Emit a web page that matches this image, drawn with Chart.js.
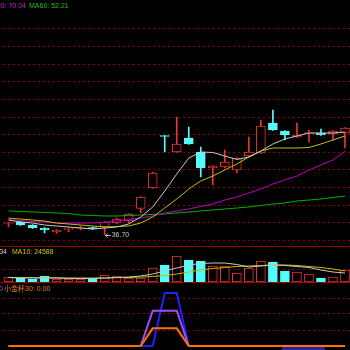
<!DOCTYPE html>
<html>
<head>
<meta charset="utf-8">
<script src="https://cdn.jsdelivr.net/npm/chart.js@4.4.1/dist/chart.umd.min.js"></script>
<style>
  html, body { margin: 0; padding: 0; background: #000; width: 350px; height: 350px; overflow: hidden; }
  .pane { position: absolute; left: 0; width: 350px; overflow: hidden; }
  .sep { position: absolute; left: 0; width: 350px; height: 1px; background: #a00000; }
  .txt { position: absolute; font: 7px "Liberation Sans", Arial, "Noto Sans CJK SC", sans-serif; white-space: nowrap; line-height: 9px; }
</style>
</head>
<body>
<div class="pane" style="top:0;height:246px"><canvas id="kChart" width="351" height="246"></canvas></div>
<div class="sep" style="top:246px"></div>
<div class="pane" style="top:247px;height:35px"><canvas id="volChart" width="351" height="35"></canvas></div>
<div class="sep" style="top:282px"></div>
<div class="pane" style="top:283px;height:67px"><canvas id="indChart" width="351" height="67"></canvas></div>

<span class="txt" style="top:1px;right:324px;color:#c828c8">MA30: 70.04</span>
<span class="txt" style="top:1px;left:29px;color:#20c020">MA60: 52.21</span>
<span class="txt" style="top:247px;right:343px;color:#c8c8c8">MA5: 19234</span>
<span class="txt" style="top:247px;left:12px;color:#c8c800">MA10: 24588</span>
<span class="txt" style="top:284px;right:347px;color:#9050ff">30</span>
<span class="txt" style="top:284px;left:4px;color:#f07820">小金杯30: 0.00</span>
<div style="position:absolute;left:282px;top:347px;width:43px;height:10px;background:#2323a0"></div>

<script>
// trading days shown (29 bars)
const DAYS = ['1','2','3','4','5','6','7','8','9','10','11','12','13','14','15','16','17','18','19','20','21','22','23','24','25','26','27','28','29'];

const OPEN  = [41.27, 41.87, 40.68, 39.48, 37.89, 38.95, 39.29, 39.68, 39.88, 41.47, 42.27, 47.24, 55.39, 76.27, 69.71, 75.28, 69.71, 63.35, 63.74, 62.55, 68.12, 69.31, 81.24, 78.06, 75.68, 77.07, 77.27, 76.87, 77.27];
const HIGH  = [41.87, 42.07, 40.88, 39.68, 38.89, 39.88, 40.28, 39.88, 42.07, 43.46, 45.25, 52.01, 61.76, 76.27, 83.63, 79.65, 71.70, 64.34, 70.50, 67.52, 75.68, 82.44, 86.41, 78.26, 81.24, 78.46, 78.86, 78.26, 79.45];
const LOW   = [39.88, 40.48, 39.29, 37.50, 37.30, 37.89, 38.69, 38.89, 36.70, 41.08, 41.47, 45.45, 55.19, 69.71, 69.51, 72.69, 59.77, 56.59, 63.35, 61.36, 67.92, 69.11, 78.26, 74.48, 75.48, 73.69, 76.27, 74.48, 71.30];
const CLOSE = [41.67, 40.68, 39.48, 38.69, 38.69, 39.35, 39.68, 39.09, 41.87, 43.06, 45.05, 51.81, 61.36, 75.87, 72.89, 72.89, 63.35, 64.14, 65.73, 67.32, 69.71, 80.05, 78.46, 76.47, 76.47, 77.47, 76.47, 78.06, 79.25];

const MA5  = [42.67, 41.87, 41.47, 40.68, 40.28, 39.88, 39.48, 39.09, 39.48, 39.88, 41.08, 43.86, 47.84, 54.20, 60.96, 67.32, 69.71, 69.51, 68.12, 66.73, 67.72, 70.11, 72.89, 74.88, 76.07, 77.27, 77.27, 77.27, 77.66];
const MA10 = [43.46, 43.06, 42.67, 42.27, 41.47, 41.08, 40.68, 40.28, 39.88, 40.08, 40.28, 41.47, 43.86, 47.44, 51.02, 54.99, 58.18, 60.16, 62.55, 64.94, 67.72, 70.11, 71.30, 71.30, 71.30, 71.50, 72.89, 74.48, 76.07];
const MA30 = [42.87, 42.47, 42.07, 41.87, 41.47, 41.47, 41.47, 41.47, 41.67, 42.27, 42.87, 43.46, 44.26, 45.45, 46.25, 47.04, 48.03, 49.03, 50.62, 51.81, 53.40, 54.99, 56.98, 58.57, 60.16, 62.55, 64.54, 66.53, 70.04];
const MA60 = [46.25, 46.05, 45.85, 45.65, 45.45, 45.25, 44.65, 44.46, 44.26, 44.26, 44.46, 44.65, 44.86, 45.05, 45.45, 45.85, 46.25, 46.64, 47.04, 47.44, 47.84, 48.43, 49.03, 49.43, 50.22, 50.62, 51.02, 51.61, 52.21];

const VOLUME   = [11175, 8940, 6705, 13410, 6705, 6705, 6705, 6705, 15645, 13410, 8940, 8940, 31290, 37995, 58110, 49170, 46935, 35760, 35760, 20115, 31290, 46935, 44700, 24585, 22350, 17880, 8940, 11175, 26820];
const VOL_MA5  = [10058, 8940, 8940, 8940, 8940, 7823, 7823, 7823, 8940, 10058, 11175, 13410, 17880, 24585, 31290, 37995, 41348, 42465, 42465, 39113, 33525, 35760, 37995, 36878, 34643, 32408, 26820, 22350, 20115];
const VOL_MA10 = [10058, 10058, 10058, 9500, 9500, 8940, 8940, 8940, 8940, 9500, 10058, 11175, 12293, 14528, 17880, 22350, 26820, 30173, 32408, 34643, 35760, 36878, 37995, 37995, 36878, 34643, 32408, 29055, 24588];

// 小金杯 indicator lines
const IND_BLUE   = [0, 0, 0, 0, 0, 0, 0, 0, 0, 0, 0, 0, 0, 30, 30, 0, 0, 0, 0, 0, 0, 0, 0, 0, 0, 0, 0, 0, 0];
const IND_PURPLE = [0, 0, 0, 0, 0, 0, 0, 0, 0, 0, 0, 0, 20, 20, 20, 0, 0, 0, 0, 0, 0, 0, 0, 0, 0, 0, 0, 0, 0];
const IND_ORANGE = [0, 0, 0, 0, 0, 0, 0, 0, 0, 0, 0, 0, 10, 10, 10, 0, 0, 0, 0, 0, 0, 0, 0, 0, 0, 0, 0, 0, 0];

const PRICE_GRID = [118.63, 111.63, 104.63, 97.63, 90.63, 83.63, 76.63, 69.63, 62.63, 55.63, 48.63, 41.63, 34.63];
const VOL_GRID = [29055];
const IND_GRID = [27.16, 18.11, 9.05];

const UP = '#ee3232';
const DOWN = '#54fcfc';
const isUp = OPEN.map((o, i) => CLOSE[i] >= o);
const candleColor = isUp.map(u => u ? UP : DOWN);
const bodyFill = isUp.map(u => u ? '#000' : DOWN);

function paneOptions(min, max, gridVals) {
    return {
        responsive: false,
        animation: false,
        layout: { padding: { left: 2.5, right: 0, top: 0, bottom: 0 } },
        plugins: { legend: { display: false }, tooltip: { enabled: false } },
        scales: {
            x: { display: false, offset: true },
            y: {
                min: min, max: max,
                ticks: { display: false },
                grid: { color: '#8c0000', drawTicks: false },
                border: { display: false, dash: [2, 3] },
                afterBuildTicks: ax => { ax.ticks = gridVals.map(v => ({ value: v })); }
            }
        }
    };
}

const line = (data, color, width, order) => ({
    type: 'line', data: data, borderColor: color, borderWidth: width,
    pointRadius: 0, tension: 0, fill: false, order: order
});

// arrow + value at the lowest low
const lowMark = {
    id: 'lowMark',
    afterDatasetsDraw(chart) {
        const i = LOW.indexOf(Math.min(...LOW));
        const x = chart.scales.x.getPixelForValue(i);
        const y = Math.round(chart.scales.y.getPixelForValue(LOW[i])) + 0.5;
        const c = chart.ctx;
        c.save();
        c.strokeStyle = c.fillStyle = '#c8c8c8';
        c.lineWidth = 1;
        c.beginPath();
        c.moveTo(x + 1, y); c.lineTo(x + 6, y);
        c.moveTo(x + 3, y - 2); c.lineTo(x + 1, y); c.lineTo(x + 3, y + 2);
        c.stroke();
        c.font = '7px "Liberation Sans", Arial, sans-serif';
        c.textBaseline = 'middle';
        c.fillText(LOW[i].toFixed(2), x + 7, y);
        c.restore();
    }
};

new Chart(document.getElementById('kChart').getContext('2d'), {
    type: 'bar',
    data: {
        labels: DAYS,
        datasets: [
            line(MA5, '#c8c8c8', 1, 1),
            line(MA10, '#c0c000', 1, 1),
            line(MA30, '#c000c0', 1, 1),
            line(MA60, '#00b000', 1, 1),
            { data: OPEN.map((o, i) => [o, CLOSE[i]]), backgroundColor: bodyFill, borderColor: candleColor, borderWidth: 1, borderSkipped: false, barThickness: 9, grouped: false, order: 2 },
            { data: LOW.map((l, i) => [l, HIGH[i]]), backgroundColor: candleColor, borderWidth: 0, barThickness: 1, grouped: false, order: 3 }
        ]
    },
    options: paneOptions(32.33, 130.16, PRICE_GRID),
    plugins: [lowMark]
});

new Chart(document.getElementById('volChart').getContext('2d'), {
    type: 'bar',
    data: {
        labels: DAYS,
        datasets: [
            line(VOL_MA5, '#c8c8c8', 1, 1),
            line(VOL_MA10, '#c0c000', 1, 1),
            { data: VOLUME, backgroundColor: bodyFill, borderColor: candleColor, borderWidth: 1, borderSkipped: false, barThickness: 9, grouped: false, order: 2 }
        ]
    },
    options: paneOptions(0, 78225, VOL_GRID)
});

new Chart(document.getElementById('indChart').getContext('2d'), {
    type: 'line',
    data: {
        labels: DAYS,
        datasets: [
            line(IND_ORANGE, '#ff7000', 2, 1),
            line(IND_PURPLE, '#9a50ff', 2, 2),
            line(IND_BLUE, '#2020ff', 2, 3)
        ]
    },
    options: paneOptions(-2.264, 35.65, IND_GRID)
});
</script>
</body>
</html>
